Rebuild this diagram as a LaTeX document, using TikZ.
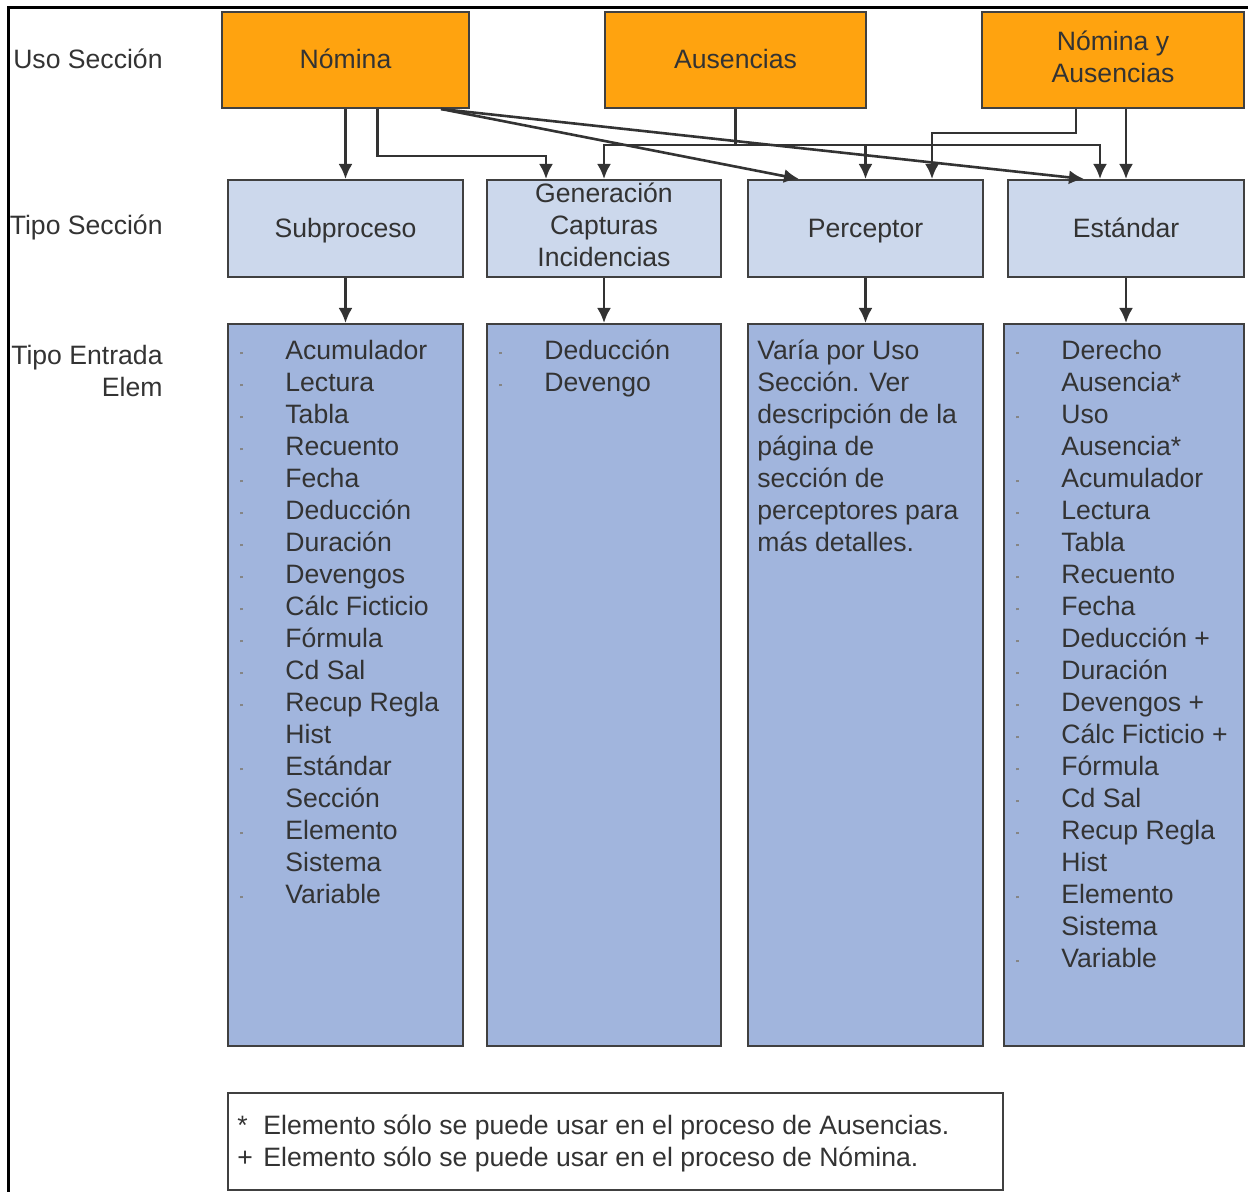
\documentclass[tikz,border=0pt]{standalone}
\usepackage{fontspec}
\setmainfont{Liberation Sans}
\usepackage{tikz}
\usetikzlibrary{arrows.meta}
\tikzset{>={Latex[length=7.5pt,width=7pt]}}
\definecolor{usoorange}{HTML}{FFA30F}
\definecolor{tipoblue}{HTML}{CCD8EC}
\definecolor{entradablue}{HTML}{A1B5DD}
\definecolor{boxline}{HTML}{404040}
\definecolor{darktext}{HTML}{333333}
\newcommand{\bl}{\makebox[22.5pt][l]{\raisebox{2.5pt}{\color{darktext!60}\rule{1.1pt}{1.1pt}}}}
\newcommand{\ind}{\hspace*{22.5pt}}
\newcommand{\bstrut}{\rule[-3.5pt]{0pt}{12.5pt}}
\tikzset{
  txt/.style={font=\fontsize{13.3}{16}\selectfont, text=darktext, inner sep=0pt},
  usobox/.style={txt, draw=boxline, line width=1pt, fill=usoorange, minimum height=48pt, align=center},
  tipobox/.style={txt, draw=boxline, line width=1pt, fill=tipoblue, minimum height=48.5pt, align=center},
  oneline/.style={text height=10pt, text depth=1.4pt},
  entradabox/.style={draw=boxline, line width=1pt, fill=entradablue, minimum height=361pt},
  listtext/.style={txt, anchor=north west, align=left},
  link/.style={->, line width=1.3pt, draw=darktext},
}

\begin{document}
\begin{tikzpicture}[x=0.5pt,y=-0.5pt]
            \useasboundingbox (0,0) rectangle (1248,1192);
            \draw[line width=1.5pt] (1248,8) -- (8,8) -- (8,1192);

            \node[txt, anchor=east] (usolbl) at (163,59) {Uso Sección};
            \node[txt, anchor=east] (tipolbl) at (163,227) {Tipo Sección};
            \node[txt, anchor=east, align=right] (entradalbl) at (163,371) {Tipo Entrada\\Elem};

            \node[usobox, oneline, minimum width=123.5pt] (nomina) at (345.5,60) {Nómina};
            \node[usobox, oneline, minimum width=130.5pt] (ausencias) at (735.5,60) {Ausencias};
            \node[usobox, minimum width=131pt] (nomaus) at (1113,60) {\bstrut Nómina y\\\bstrut Ausencias};

            \node[tipobox, oneline, minimum width=117.5pt] (subproceso) at (345.5,228.5) {Subproceso};
            \node[tipobox, minimum width=117pt] (generacion) at (604,228.5) {\bstrut Generación\\\bstrut Capturas\\\bstrut Incidencias};
            \node[tipobox, oneline, minimum width=117.5pt] (perceptor) at (865.5,228.5) {Perceptor};
            \node[tipobox, oneline, minimum width=118pt] (estandar) at (1126,228.5) {Estándar};

            \node[entradabox, minimum width=117.5pt] (lsub) at (345.5,685) {};
            \node[entradabox, minimum width=117pt] (lgen) at (604,685) {};
            \node[entradabox, minimum width=117.5pt] (lper) at (865.5,685) {};
            \node[entradabox, minimum width=120pt] (lest) at (1124,685) {};

            \node[listtext] (subitems) at ([xshift=6.5pt,yshift=-6.8pt]lsub.north west) {\strut\bl Acumulador\\\bl Lectura\\\bl Tabla\\\bl Recuento\\\bl Fecha\\\bl Deducción\\\bl Duración\\\bl Devengos\\\bl Cálc Ficticio\\\bl Fórmula\\\bl Cd Sal\\\bl Recup Regla\\\ind Hist\\\bl Estándar\\\ind Sección\\\bl Elemento\\\ind Sistema\\\bl Variable};
            \node[listtext] (genitems) at ([xshift=6.5pt,yshift=-6.8pt]lgen.north west) {\strut\bl Deducción\\\bl Devengo};
            \node[listtext] (peritems) at ([xshift=5pt,yshift=-6.8pt]lper.north west) {\strut Varía por Uso\\Sección. Ver\\descripción de la\\página de\\sección de\\perceptores para\\más detalles.};
            \node[listtext] (estitems) at ([xshift=6.5pt,yshift=-6.8pt]lest.north west) {\strut\bl Derecho\\\ind Ausencia*\\\bl Uso\\\ind Ausencia*\\\bl Acumulador\\\bl Lectura\\\bl Tabla\\\bl Recuento\\\bl Fecha\\\bl Deducción +\\\bl Duración\\\bl Devengos +\\\bl Cálc Ficticio +\\\bl Fórmula\\\bl Cd Sal\\\bl Recup Regla\\\ind Hist\\\bl Elemento\\\ind Sistema\\\bl Variable};

            \node[draw=boxline, line width=1pt, fill=white, minimum width=387.5pt, minimum height=48.5pt] (leyenda) at (615.5,1141.5) {};
            \node[listtext] (leyendatxt) at ([xshift=5pt,yshift=-9.8pt]leyenda.north west) {\strut\makebox[13pt][l]{*}Elemento sólo se puede usar en el proceso de Ausencias.\\\makebox[13pt][l]{+}Elemento sólo se puede usar en el proceso de Nómina.};

            \draw[link] (nomina.south -| subproceso.north) -- (subproceso.north);
            \draw[link] ([xshift=16pt]nomina.south) -- ++(0,47) -| ([xshift=-29pt]generacion.north);
            \draw[line width=1.3pt, darktext] (ausencias.south) -- ++(0,36) coordinate (bus);
            \draw[link] (bus) -| (generacion.north);
            \draw[link] (bus) -| (perceptor.north);
            \draw[link] (bus) -| ([xshift=-13pt]estandar.north);
            \draw[link] ([xshift=-18.5pt]nomaus.south) -- ++(0,24) -| ([xshift=33.25pt]perceptor.north);
            \draw[link] (estandar.north |- nomaus.south) -- (estandar.north);
            \draw[link] ([xshift=-14.5pt]nomina.south east) -- ([xshift=26pt]perceptor.north west);
            \draw[link] ([xshift=-14.5pt]nomina.south east) -- ([xshift=38.5pt]estandar.north west);

            \draw[link] (subproceso.south) -- (lsub.north);
            \draw[link] (generacion.south) -- (lgen.north);
            \draw[link] (perceptor.south) -- (lper.north);
            \draw[link] (estandar.south) -- (estandar.south |- lest.north);
        \end{tikzpicture}
\end{document}
